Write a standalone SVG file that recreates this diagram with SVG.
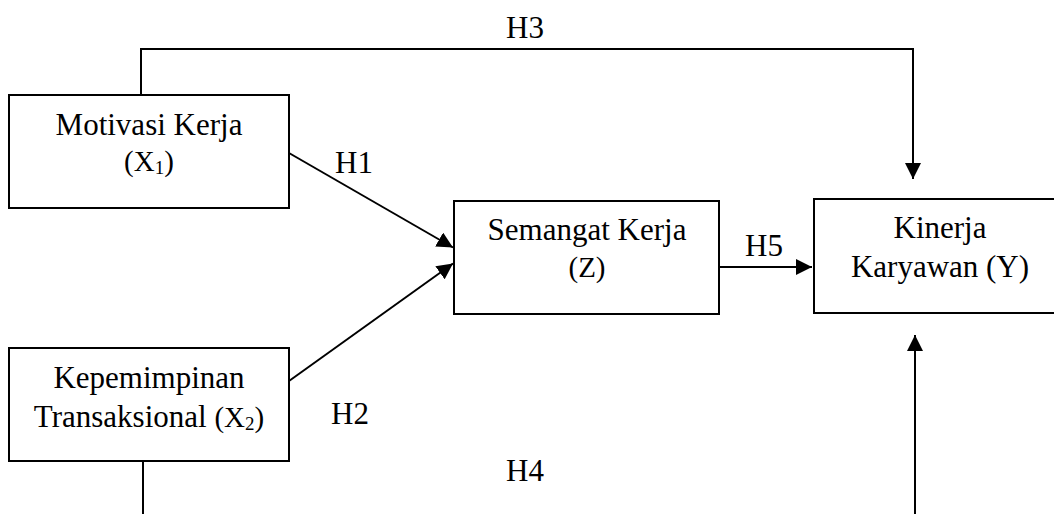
<svg xmlns="http://www.w3.org/2000/svg" width="1054" height="514" viewBox="0 0 1054 514">
  <style>
    .box { fill: #ffffff; stroke: #000000; stroke-width: 2; }
    .link { fill: none; stroke: #000000; stroke-width: 2; }
    text { font-family: "Liberation Serif", "Times New Roman", serif; fill: #000000; text-anchor: middle; }
    .main { font-size: 31px; }
    .var { font-size: 29px; }
    .sub { font-size: 19px; }
    .lbl { font-size: 31px; }
  </style>
  <defs>
    <marker id="arrow" markerUnits="userSpaceOnUse" markerWidth="16" markerHeight="16" refX="16" refY="8" orient="auto">
      <path d="M0,0 L16,8 L0,16 Z" fill="#000000"/>
    </marker>
  </defs>

  <rect width="1054" height="514" fill="#ffffff"/>

  <!-- connectors -->
  <g id="connectors">
    <polyline class="link" points="141,95 141,49 913,49 913,179" marker-end="url(#arrow)"/>
    <line class="link" x1="289" y1="153" x2="453" y2="247.5" marker-end="url(#arrow)"/>
    <line class="link" x1="289" y1="381" x2="453" y2="263.5" marker-end="url(#arrow)"/>
    <line class="link" x1="719" y1="267" x2="812" y2="267" marker-end="url(#arrow)"/>
    <line class="link" x1="143" y1="461" x2="143" y2="520"/>
    <line class="link" x1="915" y1="520" x2="915" y2="335" marker-end="url(#arrow)"/>
    <text class="lbl" x="525" y="38">H3</text>
    <text class="lbl" x="354" y="173">H1</text>
    <text class="lbl" x="350" y="424">H2</text>
    <text class="lbl" x="764" y="256">H5</text>
    <text class="lbl" x="525" y="481">H4</text>
  </g>

  <!-- Motivasi Kerja (X1) -->
  <g id="motivasi">
    <rect class="box" x="9" y="95" width="280" height="113"/>
    <text class="main" x="149" y="135">Motivasi Kerja</text>
    <text class="var" x="149" y="171">(X<tspan class="sub" dy="3">1</tspan><tspan dy="-3">)</tspan></text>
  </g>

  <!-- Kepemimpinan Transaksional (X2) -->
  <g id="kepemimpinan">
    <rect class="box" x="9" y="348" width="280" height="113"/>
    <text class="main" x="149" y="388">Kepemimpinan</text>
    <text x="149" y="427"><tspan class="main">Transaksional </tspan><tspan class="var">(X</tspan><tspan class="sub" dy="3">2</tspan><tspan class="var" dy="-3">)</tspan></text>
  </g>

  <!-- Semangat Kerja (Z) -->
  <g id="semangat">
    <rect class="box" x="454" y="201" width="265" height="113"/>
    <text class="main" x="587" y="240">Semangat Kerja</text>
    <text class="var" x="587" y="277">(Z)</text>
  </g>

  <!-- Kinerja Karyawan (Y) -->
  <g id="kinerja">
    <rect class="box" x="814" y="199" width="252" height="114"/>
    <text class="main" x="940" y="238">Kinerja</text>
    <text class="main" x="940" y="277">Karyawan (Y)</text>
  </g>
</svg>
